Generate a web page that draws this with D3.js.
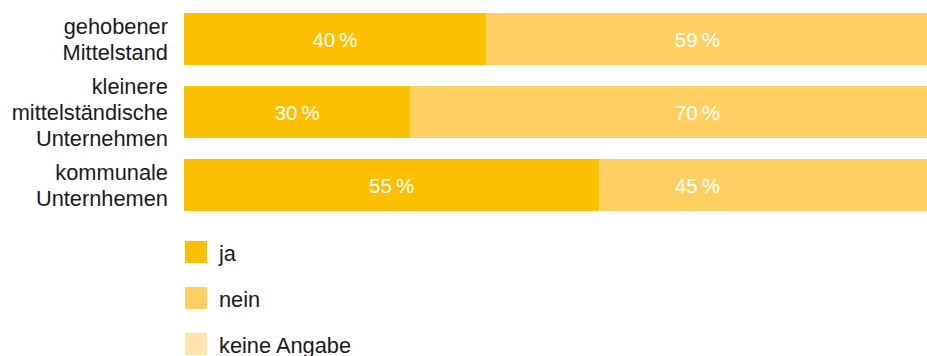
<!DOCTYPE html>
<html>
<head>
<meta charset="utf-8">
<script src="https://cdn.jsdelivr.net/npm/d3@7"></script>
<style>
  body { margin: 0; background: #fff; }
  svg { display: block; font-family: "Liberation Sans", Arial, sans-serif; }
</style>
</head>
<body>
<script>
// survey shares per company type
const categories = [
  ['gehobener', 'Mittelstand'],
  ['kleinere', 'mittelständische', 'Unternehmen'],
  ['kommunale', 'Unternhemen']
];
const seriesNames = ['ja', 'nein', 'keine Angabe'];
const jaValues = [40, 30, 55];
const neinValues = [59, 70, 45];
const keineValues = [1, 0, 0];
const colors = ['#fcc000', '#fed061', '#fee4ab'];

const svgWidth = 927;
const svgHeight = 356;

const rows = categories.map((c, i) => ({
  key: i,
  lines: c,
  ja: jaValues[i],
  nein: neinValues[i],
  keine: keineValues[i]
}));

const stack = d3.stack().keys(['ja', 'nein', 'keine']);
const layers = stack(rows);

const scaleX = d3.scaleLinear().domain([0, 100]).range([184, 939]);
const scaleY = d3.scaleBand()
  .domain(rows.map(d => d.key))
  .range([13, 211])
  .paddingInner(0.288);

const svg = d3.select('body')
  .append('svg')
  .attr('width', svgWidth)
  .attr('height', svgHeight);

const groups = svg.selectAll('g.layer')
  .data(layers)
  .enter()
  .append('g')
  .attr('class', 'layer')
  .attr('fill', (d, i) => colors[i]);

groups.selectAll('rect')
  .data(d => d)
  .enter()
  .append('rect')
  .attr('x', d => scaleX(d[0]))
  .attr('y', d => scaleY(d.data.key))
  .attr('width', d => scaleX(d[1]) - scaleX(d[0]))
  .attr('height', scaleY.bandwidth());

const pct = v => v + '\u202F%';

// value labels
svg.selectAll('text.ja')
  .data(rows)
  .enter()
  .append('text')
  .attr('class', 'ja')
  .attr('x', d => scaleX(d.ja / 2))
  .attr('y', d => scaleY(d.key) + scaleY.bandwidth() / 2)
  .attr('dy', '0.38em')
  .attr('text-anchor', 'middle')
  .attr('fill', '#fff')
  .attr('font-size', 20.5)
  .text(d => pct(d.ja));

svg.selectAll('text.nein')
  .data(rows)
  .enter()
  .append('text')
  .attr('class', 'nein')
  .attr('x', scaleX(68))
  .attr('y', d => scaleY(d.key) + scaleY.bandwidth() / 2)
  .attr('dy', '0.38em')
  .attr('text-anchor', 'middle')
  .attr('fill', '#fff')
  .attr('font-size', 20.5)
  .text(d => pct(d.nein));

// category labels
const lineH = 26;
const catText = svg.selectAll('text.cat')
  .data(rows)
  .enter()
  .append('text')
  .attr('class', 'cat')
  .attr('text-anchor', 'end')
  .attr('fill', '#1a1a1a')
  .attr('font-size', 21.8);

catText.selectAll('tspan')
  .data(d => d.lines.map((t, j) => ({ t, j, n: d.lines.length, key: d.key })))
  .enter()
  .append('tspan')
  .attr('x', 168)
  .attr('y', d => scaleY(d.key) + scaleY.bandwidth() / 2 + (d.j - (d.n - 1) / 2) * lineH)
  .attr('dy', '0.38em')
  .text(d => d.t);

// legend
const legend = svg.selectAll('g.legend')
  .data(seriesNames)
  .enter()
  .append('g')
  .attr('class', 'legend')
  .attr('transform', (d, i) => `translate(185, ${241 + i * 46})`);

legend.append('rect')
  .attr('width', 22)
  .attr('height', 22)
  .attr('fill', (d, i) => colors[i]);

legend.append('text')
  .attr('x', 34)
  .attr('y', 12)
  .attr('dy', '0.38em')
  .attr('fill', '#1a1a1a')
  .attr('font-size', 21.8)
  .text(d => d);
</script>
</body>
</html>
